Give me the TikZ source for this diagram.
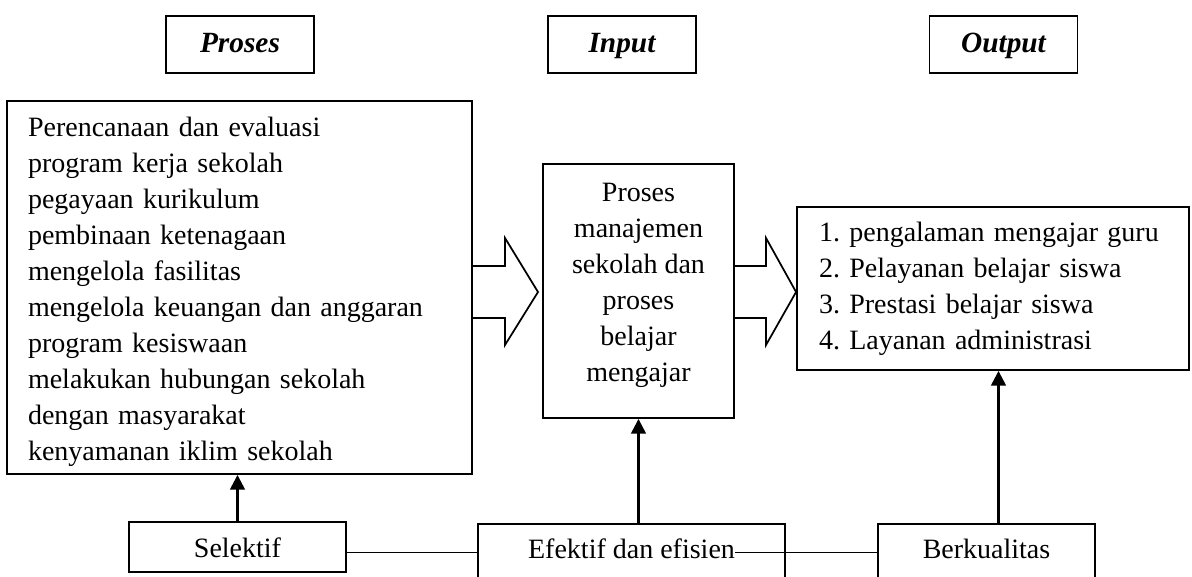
\documentclass[tikz,border=0pt]{standalone}
\usepackage{fontspec}
\setmainfont{Liberation Serif}
\frenchspacing
\usetikzlibrary{positioning, arrows.meta, calc}

\begin{document}
\begin{tikzpicture}[x=0.75pt, y=-0.75pt,
    kotak/.style={draw, line width=1.4pt, rectangle, inner sep=0pt},
    isi/.style={font=\fontsize{21}{27}\selectfont},
    judul/.style={kotak, minimum width=111pt, minimum height=42.75pt, text height=14.5pt, text depth=3pt, font=\fontsize{22}{27}\selectfont\bfseries\itshape},
    teks/.style={text height=14pt, text depth=5.5pt},
    naik/.style={-{Triangle[width=11pt, length=11pt]}, line width=1.8pt},
    garis/.style={line width=1.3pt},
    panah/.style={line width=1.3pt, line join=miter}]
      \useasboundingbox (0,0) rectangle (1192,576);

      % Headers
      \node[judul] (hproses) at (240,44.5) {Proses};
      \node[judul] (hinput) at (622,44.5) {Input};
      \node[judul] (houtput) at (1003.5,44.5) {Output};

      % Left box
      \node[kotak, minimum width=348.75pt, minimum height=279.75pt] (kiri) at (239.5,287.5) {};
      \node[isi, inner sep=0pt, text width=317.25pt, align=left] (tkiri) at ([yshift=-3.5pt]kiri.center) {
        Perencanaan dan evaluasi\\
        program kerja sekolah\\
        pegayaan kurikulum\\
        pembinaan ketenagaan\\
        mengelola fasilitas\\
        mengelola keuangan dan anggaran\\
        program kesiswaan\\
        melakukan hubungan sekolah\\
        dengan masyarakat\\
        kenyamanan iklim sekolah
      };

      % Middle box
      \node[kotak, minimum width=143.25pt, minimum height=190.5pt] (tengah) at (638.5,291) {};
      \node[isi, inner sep=0pt, align=center] (ttengah) at ([yshift=4.5pt]tengah.center) {
        Proses\\ manajemen\\ sekolah dan\\ proses\\ belajar\\ mengajar
      };

      % Right box
      \node[kotak, isi, minimum width=294pt, minimum height=122.25pt, text width=261pt, align=left] (kanan) at (993,288.5) {
        1. pengalaman mengajar guru\\
        2. Pelayanan belajar siswa\\
        3. Prestasi belajar siswa\\
        4. Layanan administrasi
      };

      % Bottom boxes
      \node[kotak, isi, minimum width=162.75pt, minimum height=37.5pt, text height=16pt, text depth=0pt] (selektif) at (237.5,547) {Selektif};
      \node[kotak, minimum width=230.25pt, minimum height=42.75pt] (efektif) at (631.5,552.5) {};
      \node[isi, teks, inner sep=0pt] (tefektif) at (efektif.center) {Efektif dan efisien};
      \node[kotak, isi, teks, minimum width=162.75pt, minimum height=42.75pt] (berkualitas) at (986.5,552.5) {Berkualitas};

      % Block arrows
      \draw[panah] (kiri.east |- 0,266) -- (505,266) -- (505,238) -- (538,292) -- (505,345) -- (505,318) -- (kiri.east |- 0,318);
      \draw[panah] (tengah.east |- 0,266) -- (766,266) -- (766,238) -- (kanan.west |- 0,292) -- (766,345) -- (766,318) -- (tengah.east |- 0,318);

      % Upward arrows
      \draw[naik] (selektif.north) -- (selektif.north |- kiri.south);
      \draw[naik] (tengah.south |- efektif.north) -- (tengah.south);
      \draw[naik] ([xshift=9pt]berkualitas.north) -- ([xshift=9pt]berkualitas.north |- kanan.south);

      % Lines
      \draw[garis] (selektif.east |- efektif.west) -- (efektif.west);
      \draw[garis] (tefektif.east) -- (berkualitas.west);
    \end{tikzpicture}
\end{document}
